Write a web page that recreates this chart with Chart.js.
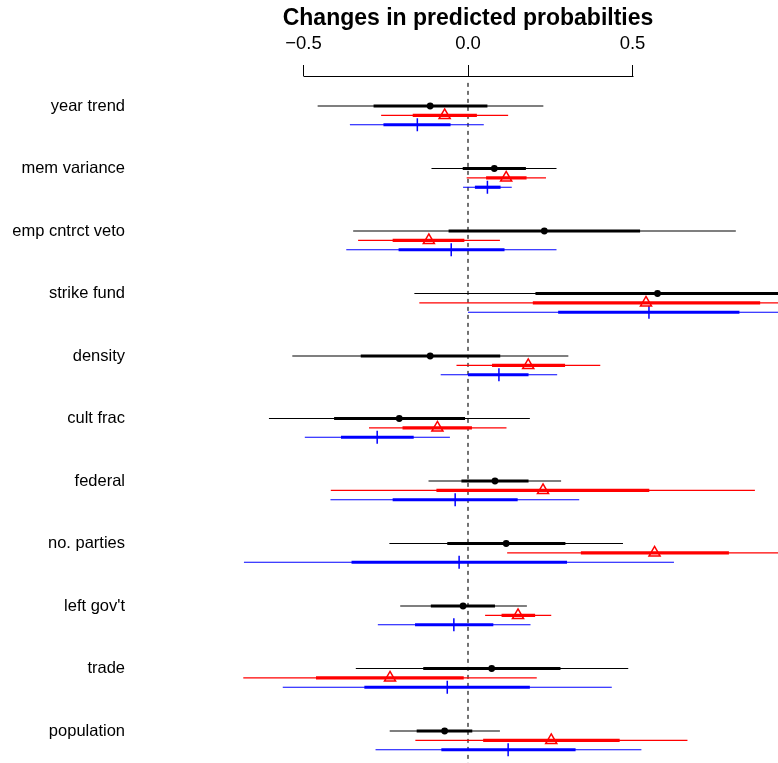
<!DOCTYPE html>
<html><head><meta charset="utf-8">
<script src="https://cdn.jsdelivr.net/npm/chart.js@4/dist/chart.umd.min.js"></script>
<style>html,body{margin:0;padding:0;background:#fff}#wrap{width:778px;height:763px}</style>
</head><body><div id="wrap"><canvas id="c" width="778" height="763"></canvas></div>
<script>
const categories = ['year trend','mem variance','emp cntrct veto','strike fund','density','cult frac','federal','no. parties',"left gov't",'trade','population'];

// Series 1 (black, dot)
const blackEst  = [-0.115, 0.080, 0.232, 0.576, -0.115, -0.209, 0.082, 0.116, -0.015, 0.072, -0.071];
const blackLo95 = [-0.457, -0.111, -0.349, -0.163, -0.534, -0.605, -0.120, -0.239, -0.206, -0.341, -0.238];
const blackHi95 = [0.229, 0.269, 0.814, 1.310, 0.305, 0.188, 0.283, 0.471, 0.179, 0.487, 0.097];
const blackLo68 = [-0.287, -0.016, -0.059, 0.205, -0.326, -0.407, -0.020, -0.063, -0.113, -0.136, -0.156];
const blackHi68 = [0.059, 0.176, 0.523, 0.950, 0.098, -0.009, 0.184, 0.296, 0.082, 0.281, 0.013];

// Series 2 (red, triangle)
const redEst  = [-0.071, 0.116, -0.119, 0.541, 0.183, -0.093, 0.228, 0.567, 0.152, -0.237, 0.253];
const redLo95 = [-0.264, -0.004, -0.334, -0.148, -0.035, -0.301, -0.417, 0.119, 0.052, -0.683, -0.160];
const redHi95 = [0.122, 0.237, 0.097, 1.230, 0.402, 0.117, 0.872, 1.020, 0.253, 0.209, 0.667];
const redLo68 = [-0.168, 0.055, -0.229, 0.197, 0.073, -0.199, -0.096, 0.343, 0.102, -0.462, 0.046];
const redHi68 = [0.027, 0.178, -0.011, 0.888, 0.295, 0.012, 0.551, 0.793, 0.204, -0.013, 0.461];

// Series 3 (blue, plus)
const blueEst  = [-0.154, 0.059, -0.051, 0.550, 0.094, -0.276, -0.039, -0.027, -0.043, -0.063, 0.122];
const blueLo95 = [-0.359, -0.015, -0.370, 0.000, -0.083, -0.496, -0.418, -0.681, -0.274, -0.563, -0.281];
const blueHi95 = [0.048, 0.133, 0.269, 1.100, 0.271, -0.055, 0.338, 0.626, 0.190, 0.437, 0.527];
const blueLo68 = [-0.257, 0.021, -0.211, 0.274, 0.000, -0.386, -0.229, -0.354, -0.161, -0.315, -0.081];
const blueHi68 = [-0.053, 0.099, 0.111, 0.825, 0.184, -0.165, 0.151, 0.301, 0.077, 0.188, 0.327];

const tickValues = [-0.5, 0, 0.5];
const tickLabels = ['\u22120.5', '0.0', '0.5'];
const titleText = 'Changes in predicted probabilties';

const FONT = "'Liberation Sans', Arial, Helvetica, sans-serif";
const series = [
  {est: blackEst, lo95: blackLo95, hi95: blackHi95, lo68: blackLo68, hi68: blackHi68, color: '#000000', off: 0,
   pt: {pointStyle: 'circle', pointRadius: 3.4, pointBackgroundColor: '#000000', pointBorderColor: '#000000', pointBorderWidth: 0}},
  {est: redEst, lo95: redLo95, hi95: redHi95, lo68: redLo68, hi68: redHi68, color: '#ff0000', off: 0.15,
   pt: {pointStyle: 'triangle', pointRadius: 6.4, pointBackgroundColor: 'rgba(255,255,255,0)', pointBorderColor: '#ff0000', pointBorderWidth: 1.5}},
  {est: blueEst, lo95: blueLo95, hi95: blueHi95, lo68: blueLo68, hi68: blueHi68, color: '#0000ff', off: 0.3,
   pt: {pointStyle: 'cross', pointRadius: 6.5, pointBackgroundColor: '#0000ff', pointBorderColor: '#0000ff', pointBorderWidth: 1.5}}
];

const datasets = [];
// markers on top
series.forEach(s => {
  datasets.push(Object.assign({
    type: 'line', showLine: false,
    data: s.est.map((v, i) => ({x: v, y: i + s.off}))
  }, s.pt));
});
// thick (inner) intervals
series.forEach(s => {
  categories.forEach((c, i) => {
    datasets.push({type: 'line', borderColor: s.color, borderWidth: 3.2, pointRadius: 0, borderCapStyle: 'butt',
      data: [{x: s.lo68[i], y: i + s.off}, {x: s.hi68[i], y: i + s.off}]});
  });
});
// thin (outer) intervals
series.forEach(s => {
  categories.forEach((c, i) => {
    datasets.push({type: 'line', borderColor: s.color, borderWidth: 1.1, pointRadius: 0, borderCapStyle: 'butt',
      data: [{x: s.lo95[i], y: i + s.off}, {x: s.hi95[i], y: i + s.off}]});
  });
});
// zero reference line
datasets.push({type: 'line', borderColor: '#000000', borderWidth: 1.1, borderDash: [4, 4], pointRadius: 0,
  data: [{x: 0, y: -0.37}, {x: 0, y: categories.length}]});

const axisSegment = {
  id: 'axisSegment',
  afterDraw(chart) {
    const xs = chart.scales.x, ctx = chart.ctx;
    const y = chart.chartArea.top + 0.5;
    ctx.save();
    ctx.strokeStyle = '#000'; ctx.lineWidth = 1;
    ctx.beginPath();
    ctx.moveTo(Math.round(xs.getPixelForValue(tickValues[0])) + 0.5, y);
    ctx.lineTo(Math.round(xs.getPixelForValue(tickValues[tickValues.length - 1])) + 0.5, y);
    ctx.stroke();
    ctx.restore();
  }
};

const noPad = s => { s.paddingTop = 0; s.paddingBottom = 0; s.paddingLeft = 0; s.paddingRight = 0; };

new Chart(document.getElementById('c'), {
  data: {datasets},
  plugins: [axisSegment],
  options: {
    responsive: false, animation: false, devicePixelRatio: 1,
    layout: {padding: 0, autoPadding: false},
    plugins: {legend: {display: false}, tooltip: {enabled: false}, title: {display: false}},
    scales: {
      x: {
        type: 'linear', position: 'top', min: -0.9422, max: 0.9422,
        afterBuildTicks: s => { s.ticks = tickValues.map(v => ({value: v})); },
        afterFit: s => { s.height = 76; noPad(s); },
        ticks: {autoSkip: false, maxRotation: 0, padding: 10, color: '#000',
          font: {family: FONT, size: 18.5},
          callback: v => tickLabels[tickValues.indexOf(v)]},
        grid: {drawOnChartArea: false, drawTicks: true, tickLength: 11, color: '#000', lineWidth: 1},
        border: {display: false},
        title: {display: true, text: titleText, color: '#000', padding: {top: 5, bottom: 0},
          font: {family: FONT, size: 23, weight: 'bold'}}
      },
      y: {
        type: 'linear', reverse: true, min: -0.48, max: 10.512,
        afterBuildTicks: s => { s.ticks = categories.map((c, i) => ({value: i})); },
        afterFit: s => { s.width = 158; noPad(s); },
        ticks: {autoSkip: false, padding: 33, color: '#000', font: {family: FONT, size: 16.5},
          callback: v => categories[v]},
        grid: {display: false, drawTicks: false},
        border: {display: false}
      }
    }
  }
});
</script></body></html>
